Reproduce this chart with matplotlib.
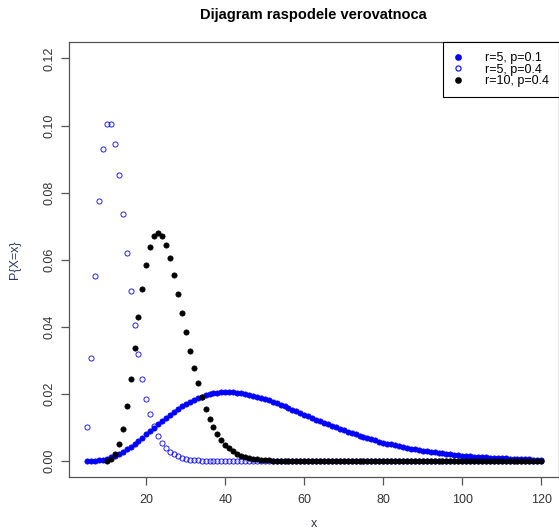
import matplotlib
matplotlib.use("Agg")
import matplotlib.pyplot as plt
from matplotlib.lines import Line2D

plt.rcParams['font.family'] = ['Liberation Sans', 'DejaVu Sans']

# number of trials x
x_r5 = list(range(5, 121))
x_r10 = list(range(10, 121))

# r=5, p=0.1
p_r5_p01 = [
    0.00001, 0.00005, 0.00012, 0.00026, 0.00046, 0.00074, 0.00112, 0.00158, 0.00213, 0.00277,
    0.00349, 0.00428, 0.00514, 0.00605, 0.00700, 0.00798, 0.00898, 0.00998, 0.01098, 0.01196,
    0.01292, 0.01384, 0.01472, 0.01555, 0.01633, 0.01705, 0.01771, 0.01830, 0.01882, 0.01927,
    0.01966, 0.01998, 0.02023, 0.02041, 0.02053, 0.02059, 0.02059, 0.02053, 0.02043, 0.02027,
    0.02007, 0.01982, 0.01954, 0.01922, 0.01887, 0.01849, 0.01809, 0.01767, 0.01723, 0.01677,
    0.01630, 0.01582, 0.01533, 0.01484, 0.01435, 0.01385, 0.01336, 0.01286, 0.01238, 0.01189,
    0.01142, 0.01095, 0.01049, 0.01004, 0.00960, 0.00917, 0.00876, 0.00835, 0.00796, 0.00758,
    0.00721, 0.00685, 0.00651, 0.00618, 0.00586, 0.00556, 0.00527, 0.00499, 0.00472, 0.00446,
    0.00422, 0.00398, 0.00376, 0.00355, 0.00334, 0.00315, 0.00297, 0.00279, 0.00263, 0.00247,
    0.00232, 0.00218, 0.00205, 0.00192, 0.00181, 0.00169, 0.00159, 0.00149, 0.00139, 0.00130,
    0.00122, 0.00114, 0.00107, 0.00100, 0.00093, 0.00087, 0.00081, 0.00076, 0.00071, 0.00066,
    0.00062, 0.00058, 0.00054, 0.00050, 0.00047, 0.00043,
]

# r=5, p=0.4
p_r5_p04 = [
    0.01024, 0.03072, 0.05530, 0.07741, 0.09290, 0.10033, 0.10033, 0.09460, 0.08514, 0.07378,
    0.06198, 0.05071, 0.04057, 0.03183, 0.02456, 0.01866, 0.01400, 0.01037, 0.00761, 0.00553,
    0.00398, 0.00284, 0.00202, 0.00142, 0.00099, 0.00069, 0.00048, 0.00033, 0.00023, 0.00015,
    0.00011, 0.00007, 0.00005, 0.00003, 0.00002, 0.00001, 0.0, 0.0, 0.0, 0.0,
    0.0, 0.0, 0.0, 0.0, 0.0, 0.0, 0.0, 0.0, 0.0, 0.0,
    0.0, 0.0, 0.0, 0.0, 0.0, 0.0, 0.0, 0.0, 0.0, 0.0,
    0.0, 0.0, 0.0, 0.0, 0.0, 0.0, 0.0, 0.0, 0.0, 0.0,
    0.0, 0.0, 0.0, 0.0, 0.0, 0.0, 0.0, 0.0, 0.0, 0.0,
    0.0, 0.0, 0.0, 0.0, 0.0, 0.0, 0.0, 0.0, 0.0, 0.0,
    0.0, 0.0, 0.0, 0.0, 0.0, 0.0, 0.0, 0.0, 0.0, 0.0,
    0.0, 0.0, 0.0, 0.0, 0.0, 0.0, 0.0, 0.0, 0.0, 0.0,
    0.0, 0.0, 0.0, 0.0, 0.0, 0.0,
]

# r=10, p=0.4
p_r10_p04 = [
    0.00010, 0.00063, 0.00208, 0.00498, 0.00972, 0.01632, 0.02449, 0.03358, 0.04281, 0.05138,
    0.05857, 0.06390, 0.06709, 0.06812, 0.06715, 0.06446, 0.06043, 0.05546, 0.04991, 0.04413,
    0.03840, 0.03291, 0.02782, 0.02323, 0.01916, 0.01564, 0.01263, 0.01010, 0.00801, 0.00630,
    0.00491, 0.00380, 0.00292, 0.00223, 0.00169, 0.00128, 0.00096, 0.00071, 0.00053, 0.00039,
    0.00029, 0.00021, 0.00015, 0.00011, 0.00008, 0.00006, 0.00004, 0.00003, 0.00002, 0.00002,
    0.00001, 0.0, 0.0, 0.0, 0.0, 0.0, 0.0, 0.0, 0.0, 0.0,
    0.0, 0.0, 0.0, 0.0, 0.0, 0.0, 0.0, 0.0, 0.0, 0.0,
    0.0, 0.0, 0.0, 0.0, 0.0, 0.0, 0.0, 0.0, 0.0, 0.0,
    0.0, 0.0, 0.0, 0.0, 0.0, 0.0, 0.0, 0.0, 0.0, 0.0,
    0.0, 0.0, 0.0, 0.0, 0.0, 0.0, 0.0, 0.0, 0.0, 0.0,
    0.0, 0.0, 0.0, 0.0, 0.0, 0.0, 0.0, 0.0, 0.0, 0.0,
    0.0,
]

legend_labels = ["r=5, p=0.1", "r=5, p=0.4", "r=10, p=0.4"]
x_ticks = [20, 40, 60, 80, 100, 120]
y_ticks = [0.00, 0.02, 0.04, 0.06, 0.08, 0.10, 0.12]

W, H = 559, 529
fig = plt.figure(figsize=(W / 100, H / 100), dpi=100)
ax = fig.add_axes([69 / W, 1 - 477.3 / H, (559.3 - 69) / W, (477.3 - 42.3) / H])

FILLED_MS = 3.8
OPEN_MS = 3.7

ax.plot(x_r5, p_r5_p01, linestyle='none', marker='o', ms=FILLED_MS, mfc='#0000FF',
        mec='#0000FF', mew=0.5, zorder=2)
ax.plot(x_r5, p_r5_p04, linestyle='none', marker='o', ms=OPEN_MS, mfc='none',
        mec='#0000FF', mew=0.6, zorder=3)
ax.plot(x_r10, p_r10_p04, linestyle='none', marker='o', ms=FILLED_MS, mfc='black',
        mec='black', mew=0.5, zorder=4)

ax.set_xlim(0.4, 124.6)
ax.set_ylim(-0.0048, 0.1248)
ax.set_xticks(x_ticks)
ax.set_yticks(y_ticks)
ax.set_xticklabels([str(t) for t in x_ticks])
ax.set_yticklabels([f"{t:.2f}" for t in y_ticks], rotation=90, va='center')

for s in ax.spines.values():
    s.set_color('#555555')
    s.set_linewidth(0.9)
ax.tick_params(direction='out', length=6, width=0.9, color='#555555',
               labelsize=9, labelcolor='#333333')
ax.tick_params(axis='x', pad=6)
ax.tick_params(axis='y', pad=4)

ax.set_title("Dijagram raspodele verovatnoca", fontsize=10.5, fontweight='bold',
             pad=17, x=(313 - 69) / (559.3 - 69))
ax.set_xlabel("x", fontsize=9, color='#333344', labelpad=9)
ax.set_ylabel("P{X=x}", fontsize=9, color='#2a3a5a', labelpad=16)

handles = [
    Line2D([], [], linestyle='none', marker='o', ms=FILLED_MS, mfc='#0000FF', mec='#0000FF'),
    Line2D([], [], linestyle='none', marker='o', ms=OPEN_MS, mfc='none', mec='#0000FF', mew=0.8),
    Line2D([], [], linestyle='none', marker='o', ms=FILLED_MS, mfc='black', mec='black'),
]
leg = ax.legend(handles, legend_labels, loc='upper right', borderaxespad=0,
                fancybox=False, framealpha=1, edgecolor='black', fontsize=9,
                handlelength=0.8, handletextpad=1.8, labelspacing=-0.05,
                borderpad=0.8)
leg.get_frame().set_linewidth(0.8)

fig.savefig("out.png", dpi=100)
